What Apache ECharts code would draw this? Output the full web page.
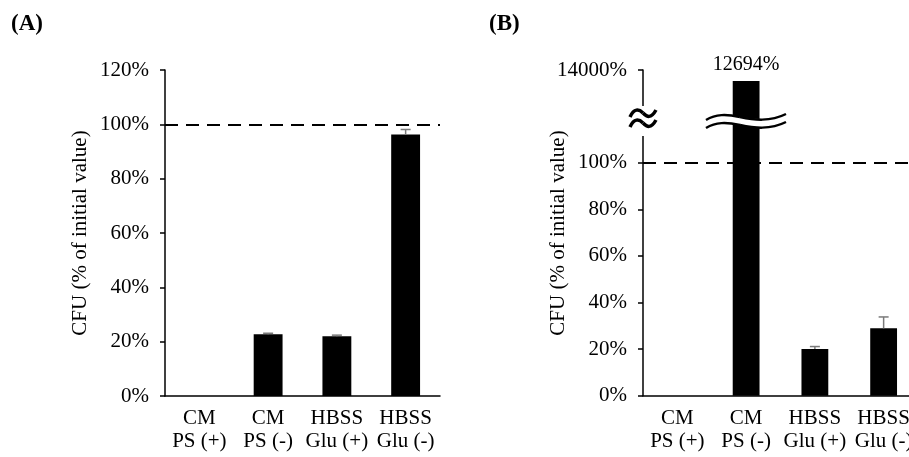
<!DOCTYPE html>
<html><head><meta charset="utf-8">
<script src="https://cdn.jsdelivr.net/npm/echarts@6/dist/echarts.min.js"></script>
<style>html,body{margin:0;padding:0;background:#fff}#c{width:909px;height:457px}</style>
</head><body><div id="c"></div>
<script>
const categories = ['CM\nPS (+)', 'CM\nPS (-)', 'HBSS\nGlu (+)', 'HBSS\nGlu (-)'];
const valuesA = [0, 22.7, 22.0, 96.3];
const errorsA = [0, 0.4, 0.4, 1.8];
const valuesB = [0, 12694, 20.0, 28.9];
const errorsB = [0, 0, 1.1, 4.9];
const referenceLine = 100;
const ticksA = [0, 20, 40, 60, 80, 100, 120];
const ticksBLower = [0, 20, 40, 60, 80, 100];
const ticksBUpper = [14000];
const yNameText = 'CFU (% of initial value)';

const FONT = 'Liberation Serif';
const chart = echarts.init(document.getElementById('c'), null, {renderer: 'canvas'});

function errRender(errs) {
  return function (params, api) {
    const i = api.value(0);
    const v = api.value(1);
    const e = errs[i];
    if (!e) return null;
    const p0 = api.coord([i, v]);
    const p1 = api.coord([i, v + e]);
    const style = {stroke: '#7a7a7a', lineWidth: 1.5};
    return {type: 'group', children: [
      {type: 'line', shape: {x1: p0[0], y1: p0[1], x2: p1[0], y2: p1[1]}, style},
      {type: 'line', shape: {x1: p1[0] - 5, y1: p1[1], x2: p1[0] + 5, y2: p1[1]}, style}
    ]};
  };
}

const axisLineStyle = {color: '#000', width: 1.5};
const labelStyle = {fontFamily: FONT, fontSize: 21, color: '#000'};
const pct = v => v + '%';

function xAx(gridIndex, show) {
  return {
    type: 'category', gridIndex, data: categories, show,
    axisLine: {show: true, lineStyle: axisLineStyle},
    axisTick: {show: false},
    axisLabel: Object.assign({interval: 0, margin: 11, lineHeight: 23, hideOverlap: false}, labelStyle)
  };
}

function wave(p, dy, lw, z) {
  return [
    {type: 'bezierCurve', z, shape: {x1: p[0], y1: p[1] + dy, cpx1: p[2], cpy1: p[3] + dy, cpx2: p[4], cpy2: p[5] + dy, x2: p[6], y2: p[7] + dy},
     style: {fill: null, stroke: '#000', lineWidth: lw}},
    {type: 'bezierCurve', z, shape: {x1: p[6], y1: p[7] + dy, cpx1: p[8], cpy1: p[9] + dy, cpx2: p[10], cpy2: p[11] + dy, x2: p[12], y2: p[13] + dy},
     style: {fill: null, stroke: '#000', lineWidth: lw}}
  ];
}
const axisWave = [630, 117, 634, 108, 639, 109, 643, 113, 647, 117, 651, 119, 656, 110];
const barWave = [706, 120, 716, 114, 726, 114, 740, 117, 754, 120, 770, 122, 786, 114];
const fillTop = [[706, 120], [716, 116.8], [726, 116], [740, 117], [754, 118.8], [770, 119.4], [786, 114]];
const fillPts = fillTop.concat(fillTop.slice().reverse().map(p => [p[0], p[1] + 8]));

const gridBase = {containLabel: false, outerBoundsMode: 'none'};
const option = {
  animation: false,
  backgroundColor: '#fff',
  grid: [
    Object.assign({left: 165, top: 70, width: 275, height: 326}, gridBase),
    Object.assign({left: 643, top: 116.1, right: -9, height: 279.6}, gridBase),
    Object.assign({left: 643, top: 70, right: -9, height: 46.1}, gridBase)
  ],
  xAxis: [xAx(0, true), xAx(1, true), xAx(2, false)],
  yAxis: [
    {type: 'value', gridIndex: 0, min: 0, max: 120, interval: 20,
     axisLine: {show: true, lineStyle: axisLineStyle},
     axisTick: {show: true, length: 5, lineStyle: axisLineStyle, customValues: ticksA},
     axisLabel: Object.assign({margin: 16, formatter: pct, customValues: ticksA}, labelStyle),
     splitLine: {show: false}},
    {type: 'value', gridIndex: 1, min: 0, max: 120, interval: 20,
     axisLine: {show: true, lineStyle: axisLineStyle},
     axisTick: {show: true, length: 5, lineStyle: axisLineStyle, customValues: ticksBLower},
     axisLabel: Object.assign({margin: 16, formatter: pct, customValues: ticksBLower}, labelStyle),
     splitLine: {show: false}},
    {type: 'value', gridIndex: 2, min: 8500, max: 14000,
     axisLine: {show: true, lineStyle: axisLineStyle},
     axisTick: {show: true, length: 5, lineStyle: axisLineStyle, customValues: ticksBUpper},
     axisLabel: Object.assign({margin: 16, formatter: pct, customValues: ticksBUpper}, labelStyle),
     splitLine: {show: false}}
  ],
  series: [
    {type: 'line', xAxisIndex: 0, yAxisIndex: 0, data: [], z: 1, silent: true,
     markLine: {silent: true, symbol: 'none', label: {show: false},
       lineStyle: {color: '#000', width: 2, type: [13, 8]}, data: [{yAxis: referenceLine}]}},
    {type: 'bar', xAxisIndex: 0, yAxisIndex: 0, data: valuesA, barWidth: '42%', z: 2,
     itemStyle: {color: '#000'}},
    {type: 'custom', xAxisIndex: 0, yAxisIndex: 0, z: 3,
     data: valuesA.map((v, i) => [i, v]), renderItem: errRender(errorsA)},

    {type: 'line', xAxisIndex: 1, yAxisIndex: 1, data: [], z: 1, silent: true,
     markLine: {silent: true, symbol: 'none', label: {show: false},
       lineStyle: {color: '#000', width: 2, type: [13, 8]}, data: [{yAxis: referenceLine}]}},
    {type: 'bar', xAxisIndex: 1, yAxisIndex: 1, data: valuesB, barWidth: '39%', z: 2,
     clip: true, itemStyle: {color: '#000'}},
    {type: 'custom', xAxisIndex: 1, yAxisIndex: 1, z: 3,
     data: valuesB.map((v, i) => [i, v]), renderItem: errRender(errorsB)},
    {type: 'bar', xAxisIndex: 2, yAxisIndex: 2, data: valuesB, barWidth: '39%', z: 2,
     clip: true, itemStyle: {color: '#000'},
     label: {show: true, position: 'top', distance: 6, fontFamily: FONT, fontSize: 20, color: '#000',
       formatter: p => (p.value > 8500 ? p.value + '%' : '')}}
  ],
  graphic: [
    {type: 'text', x: 11, y: 13, style: {text: '(A)', fontFamily: FONT, fontSize: 23, fontWeight: 'bold', fill: '#000'}},
    {type: 'text', x: 489, y: 13, style: {text: '(B)', fontFamily: FONT, fontSize: 23, fontWeight: 'bold', fill: '#000'}},
    {type: 'text', x: 80, y: 233, rotation: Math.PI / 2,
     style: {text: yNameText, fontFamily: FONT, fontSize: 21, fill: '#000', align: 'center', verticalAlign: 'middle'}},
    {type: 'text', x: 558, y: 233, rotation: Math.PI / 2,
     style: {text: yNameText, fontFamily: FONT, fontSize: 21, fill: '#000', align: 'center', verticalAlign: 'middle'}},
    {type: 'rect', z: 100, shape: {x: 637, y: 106, width: 13, height: 30}, style: {fill: '#fff'}},
    {type: 'polygon', z: 100, shape: {points: fillPts}, style: {fill: '#fff'}}
  ].concat(wave(axisWave, 0, 3.5, 101), wave(axisWave, 10, 3.5, 101),
           wave(barWave, 0, 2.5, 101), wave(barWave, 8, 2.5, 101))
};
chart.setOption(option);
</script>
</body></html>
